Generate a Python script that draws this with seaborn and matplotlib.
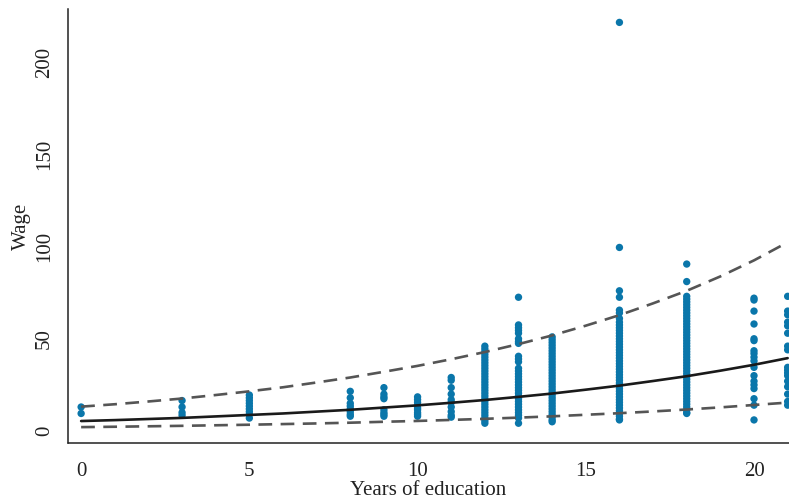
import matplotlib
matplotlib.use("Agg")
import matplotlib.pyplot as plt
import seaborn as sns
import pandas as pd
from matplotlib.lines import Line2D

# ---- scatter data: wage observations by years of education ----
e0 = [13.0, 9.5]
e3 = [16.5, 13.0, 10.0, 8.5]
e5 = [19.5, 18.0, 16.5, 15.0, 13.5, 12.0, 10.5, 9.0, 7.0]
e8 = [21.5, 18.0, 15.0, 13.5, 12.0, 10.5, 9.0, 8.0]
e9 = [23.5, 20.0, 18.5, 17.5, 11.5, 10.0, 9.0, 8.0]
e10 = [18.5, 17.0, 15.5, 14.0, 12.5, 11.5, 10.0, 9.0, 8.0]
e11 = [29.0, 27.5, 23.5, 20.0, 17.0, 15.5, 13.0, 10.5, 8.5, 7.5]
e12 = [46.0, 44.5, 43.0, 41.5, 40.0, 38.5, 37.0, 35.5, 34.0, 32.5, 31.0, 29.5,
       28.0, 26.5, 25.0, 23.5, 22.0, 20.5, 19.0, 17.5, 16.0, 14.5, 13.0, 11.5,
       10.0, 8.5, 7.0, 5.5, 4.2]
e13 = [72.5, 57.5, 56.0, 54.5, 53.0, 50.0, 48.5, 47.5, 40.5, 39.0, 37.5, 34.0,
       32.5, 31.0, 29.5, 28.0, 26.5, 25.0, 23.5, 22.0, 20.5, 19.0, 17.5, 16.0,
       14.5, 13.0, 11.5, 10.0, 8.5, 7.0, 4.2]
e14 = [51.0, 49.5, 48.0, 46.5, 45.0, 43.5, 42.0, 40.5, 39.0, 37.5, 36.0, 34.5,
       33.0, 31.5, 30.0, 28.5, 27.0, 25.5, 24.0, 22.5, 21.0, 19.5, 18.0, 16.5,
       15.0, 13.5, 12.0, 10.5, 9.0, 7.5, 6.0, 5.0]
e16 = [221.5, 99.5, 76.0, 72.5, 65.5, 64.0, 61.0, 59.0, 57.5, 56.0, 54.5, 53.0,
       51.5, 50.0, 48.5, 47.0, 45.5, 44.0, 42.5, 41.0, 39.5, 38.0, 36.5, 35.0,
       33.5, 32.0, 30.5, 29.0, 27.5, 26.0, 24.5, 23.0, 21.5, 20.0, 18.5, 17.0,
       15.5, 14.0, 12.5, 11.0, 9.5, 8.0, 6.5, 6.0]
e18 = [90.5, 81.0, 73.0, 71.5, 70.0, 68.5, 67.0, 65.5, 64.0, 62.5, 61.0, 59.5,
       58.0, 56.5, 55.0, 53.5, 52.0, 50.5, 49.0, 47.5, 46.0, 44.5, 43.0, 41.5,
       40.0, 38.5, 37.0, 35.5, 34.0, 32.5, 31.0, 29.5, 28.0, 26.5, 25.0, 23.5,
       22.0, 20.5, 19.0, 17.5, 16.0, 14.5, 13.0, 11.5, 10.0, 9.5]
e20 = [72.0, 71.0, 65.0, 58.0, 50.0, 49.0, 43.5, 42.0, 40.0, 38.0, 34.5, 30.0,
       27.0, 25.0, 23.0, 17.5, 14.0, 6.0]
e21 = [73.0, 65.0, 63.0, 59.0, 57.0, 53.0, 46.0, 44.0, 34.5, 33.0, 31.5, 30.0,
       27.0, 24.0, 20.0, 16.0, 14.0]

educ_levels = [0, 3, 5, 8, 9, 10, 11, 12, 13, 14, 16, 18, 20, 21]
wage_groups = [e0, e3, e5, e8, e9, e10, e11, e12, e13, e14, e16, e18, e20, e21]

# ---- fitted curve and prediction band ----
fit_x = list(range(0, 22))
fit_mid = [5.4, 5.9, 6.5, 7.1, 7.9, 8.7, 9.5, 10.5, 11.5, 12.7, 13.9, 15.3,
           16.8, 18.5, 20.3, 22.4, 24.6, 27.1, 29.7, 32.7, 35.9, 39.5]
fit_upper = [13.2, 14.5, 16.0, 17.6, 19.5, 21.5, 23.7, 26.3, 29.0, 32.1, 35.3,
             38.9, 42.8, 47.1, 51.8, 57.1, 62.8, 69.2, 76.0, 83.8, 92.5, 102.3]
fit_lower = [2.1, 2.3, 2.55, 2.8, 3.1, 3.4, 3.75, 4.1, 4.5, 5.0, 5.45, 6.0,
             6.6, 7.25, 7.95, 8.8, 9.65, 10.6, 11.65, 12.8, 14.1, 15.4]

x_ticks = [0, 5, 10, 15, 20]
y_ticks = [0, 50, 100, 150, 200]

# build tables
rows = []
for ed, ws in zip(educ_levels, wage_groups):
    for w in ws:
        rows.append((ed, w))
pts = pd.DataFrame(rows, columns=["educ", "wage"])
fit = pd.DataFrame({"educ": fit_x, "mid": fit_mid, "upper": fit_upper, "lower": fit_lower})

sns.set_style("white")
plt.rcParams["font.family"] = ["Liberation Serif", "DejaVu Serif"]

fig = plt.figure(figsize=(7.89, 5.01), dpi=100)
ax = fig.add_axes([0.0862, 0.1158, 0.9138, 0.866])

sns.scatterplot(data=pts, x="educ", y="wage", ax=ax, s=28, color="#0a76aa",
                edgecolor="none", linewidth=0, zorder=2)
dash_kw = dict(color="#555555", lw=1.9, dashes=(5.2, 3.2), zorder=3)
sns.lineplot(data=fit, x="educ", y="upper", ax=ax, **dash_kw)
sns.lineplot(data=fit, x="educ", y="lower", ax=ax, **dash_kw)
sns.lineplot(data=fit, x="educ", y="mid", ax=ax, color="#1a1a1a", lw=1.9, zorder=4)

ax.set_xlim(-0.39, 21.04)
ax.set_ylim(-6.5, 228.7)
ax.set_xticks(x_ticks)
ax.set_yticks(y_ticks)
ax.set_xticklabels([str(t) for t in x_ticks])
ax.set_yticklabels([str(t) for t in y_ticks], rotation=90, va="center")

for s in ["top", "right"]:
    ax.spines[s].set_visible(False)
ax.spines["left"].set_color("#222222")
ax.spines["left"].set_linewidth(1.1)
# detach x ticks from the axis line
ax.spines["bottom"].set_position(("outward", 3))
ax.spines["bottom"].set_visible(False)
ax.add_line(Line2D([0, 1], [0, 0], transform=ax.transAxes, color="#222222",
                   lw=1.1, clip_on=False))

ax.tick_params(axis="both", which="major", direction="out", length=5.5, width=1.0,
               color="#222222", labelsize=15, labelcolor="#222222")
ax.tick_params(axis="x", pad=5)
ax.tick_params(axis="y", pad=5, length=5)

ax.set_xlabel("Years of education", fontsize=15, color="#222222", labelpad=0)
ax.set_ylabel("Wage", fontsize=15, color="#222222", labelpad=3)

fig.savefig("out.png", dpi=100)
